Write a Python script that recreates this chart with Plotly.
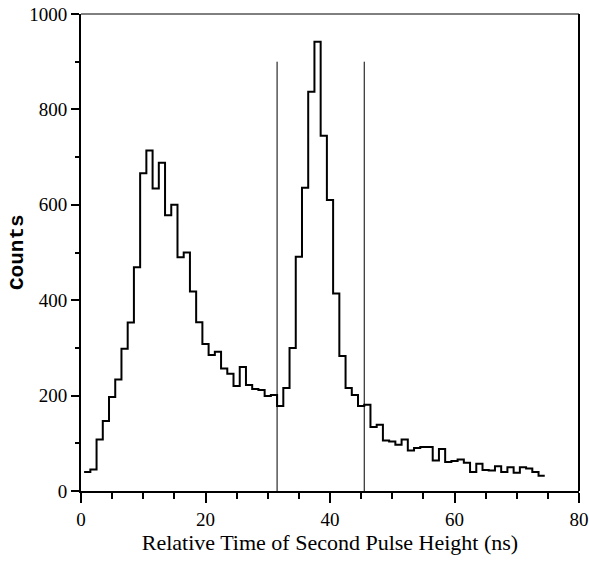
import plotly.graph_objects as go

# Histogram: 1 ns bins centred on integers 1..74
bin_centers = list(range(1, 75))
counts = [40, 45, 108, 147, 197, 234, 298, 353, 469, 666,
          714, 634, 688, 578, 600, 490, 500, 418, 354, 308,
          285, 292, 257, 246, 220, 260, 222, 214, 212, 199,
          201, 178, 216, 300, 491, 636, 837, 942, 745, 610,
          414, 283, 216, 201, 178, 181, 134, 139, 106, 104,
          97, 108, 85, 90, 92, 92, 64, 88, 61, 63,
          66, 59, 40, 57, 44, 43, 52, 40, 50, 38,
          50, 47, 40, 32]
bin_width = 1.0

# Timing-window cut markers
cut_positions = [31.5, 45.5]
cut_height = 900

x_ticks = [0, 20, 40, 60, 80]
y_ticks = [0, 200, 400, 600, 800, 1000]

# step outline from bin edges
step_x = [c - bin_width / 2 for c in bin_centers] + [bin_centers[-1] + bin_width / 2]
step_y = counts + [counts[-1]]

fig = go.Figure()
fig.add_trace(go.Scatter(x=step_x, y=step_y, mode="lines", line_shape="hv",
                         line=dict(color="black", width=2), showlegend=False,
                         hoverinfo="skip"))
for cx in cut_positions:
    fig.add_trace(go.Scatter(x=[cx, cx], y=[0, cut_height], mode="lines",
                             line=dict(color="black", width=1), showlegend=False,
                             hoverinfo="skip"))

serif = "Liberation Serif, Times New Roman, serif"
L, R, T, B = 81, 10, 14, 77
plot_w = 589 - L - R
fig.update_layout(
    width=589, height=568,
    margin=dict(l=L, r=R, t=T, b=B),
    paper_bgcolor="white", plot_bgcolor="white",
    font=dict(family=serif, color="black", size=18),
    xaxis=dict(range=[0, 80], tickvals=x_ticks, ticks="outside", ticklen=10,
               tickwidth=2, tickcolor="black", showline=True, linecolor="black",
               linewidth=2, showgrid=False, zeroline=False, automargin=False,
               tickfont=dict(family=serif, size=19), ticklabeloverflow="allow",
               minor=dict(dtick=5, ticks="outside", ticklen=6, tickwidth=2,
                          tickcolor="black", showgrid=False),
               title=dict(text="Relative Time of Second Pulse Height (ns)",
                          font=dict(family=serif, size=22), standoff=4)),
    yaxis=dict(range=[0, 1000], tickvals=y_ticks, ticks="outside", ticklen=8,
               tickwidth=2, tickcolor="black", showline=True, linecolor="black",
               linewidth=2, showgrid=False, zeroline=False, automargin=False,
               tickfont=dict(family=serif, size=19),
               minor=dict(dtick=100, ticks="outside", ticklen=4, tickwidth=2,
                          tickcolor="black", showgrid=False)),
    annotations=[dict(text="<b>Counts</b>", textangle=-90, showarrow=False,
                      xref="paper", yref="paper", x=(17.5 - L) / plot_w, y=0.5,
                      xanchor="center", yanchor="middle",
                      font=dict(family="Liberation Mono, Courier New, monospace",
                                size=21, color="black"))],
    shapes=[
        dict(type="line", xref="paper", yref="paper", x0=0, x1=1, y0=1, y1=1,
             line=dict(color="black", width=1)),
        dict(type="line", xref="paper", yref="paper", x0=1, x1=1, y0=0, y1=1,
             line=dict(color="black", width=2)),
    ],
)

fig.write_html("out.html")
